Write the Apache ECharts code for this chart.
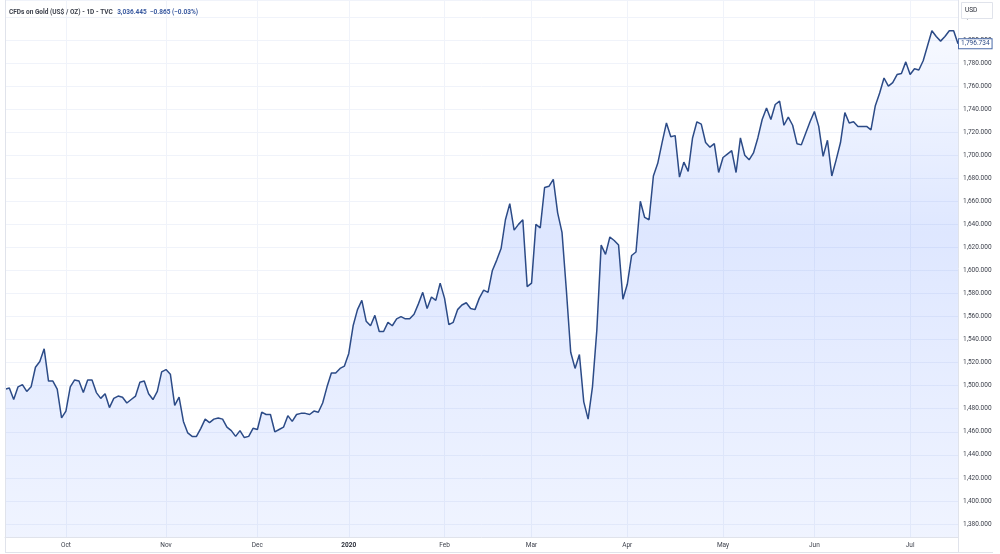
<!DOCTYPE html>
<html>
<head>
<meta charset="utf-8">
<title>CFDs on Gold</title>
<style>
  html, body { margin: 0; padding: 0; background: #fff; }
  #chart { width: 1000px; height: 554px; }
</style>
</head>
<body>
<div id="chart"></div>
<script src="https://cdn.jsdelivr.net/npm/echarts@6/dist/echarts.min.js"></script>
<script type="text/javascript">
// daily closes, one array per month
var sep2019 = [1497,1498,1488,1499,1501,1495,1499,1516,1521,1532,1504,1504,1497,1472];
var oct2019 = [1478,1499,1505,1504,1494,1505,1505,1494,1489,1493,1481,1489,1491,1490,1485,1488,1491,1503,1504,1493,1488,1495,1512];
var nov2019 = [1514,1510,1483,1490,1469,1459,1456,1456,1463,1471,1468,1471,1472,1471,1464,1461,1456,1461,1455,1456,1463];
var dec2019 = [1462,1477,1475,1475,1460,1462,1464,1474,1469,1475,1476,1476,1475,1478,1477,1485,1499,1511,1511,1515,1517];
var jan2020 = [1528,1552,1566,1574,1556,1552,1561,1547,1547,1555,1552,1558,1560,1558,1558,1562,1571,1581,1567,1577,1574,1589];
var feb2020 = [1576,1553,1555,1566,1570,1572,1567,1566,1576,1583,1581,1600,1609,1619,1644,1658,1635,1640,1644,1586];
var mar2020 = [1589,1640,1637,1672,1673,1679,1650,1633,1583,1529,1515,1527,1486,1471,1499,1548,1622,1614,1629,1626,1622,1575];
var apr2020 = [1588,1613,1616,1660,1646,1644,1682,1693,1711,1728,1716,1717,1681,1694,1686,1715,1729,1727,1711,1707,1710,1685];
var may2020 = [1698,1701,1704,1685,1715,1700,1696,1702,1715,1731,1741,1731,1744,1747,1726,1733,1726,1710,1709,1719,1729];
var jun2020 = [1738,1725,1699,1713,1682,1696,1711,1737,1728,1729,1725,1725,1725,1722,1743,1754,1767,1760,1763,1770,1771,1781];
var jul2020 = [1770,1775,1774,1782,1795,1808,1803,1799,1803,1808,1808,1796.734];

var closes = [].concat(sep2019, oct2019, nov2019, dec2019, jan2020, feb2020, mar2020, apr2020, may2020, jun2020, jul2020);

var firstDay = '2019-09-11';
var holidays = ['2019-12-25', '2020-01-01'];
var monthNames = ['2020','Feb','Mar','Apr','May','Jun','Jul','Aug','Sep','Oct','Nov','Dec'];
var yTickStep = 20;
var lastPrice = 1796.734;

// trading days (weekdays without the holidays above)
var dates = [];
var t = Date.parse(firstDay + 'T00:00:00Z');
while (dates.length < closes.length) {
    var dt = new Date(t);
    var iso = dt.toISOString().slice(0, 10);
    var wd = dt.getUTCDay();
    if (wd !== 0 && wd !== 6 && holidays.indexOf(iso) < 0) dates.push(iso);
    t += 86400000;
}
var monthStart = {};
for (var i = 1; i < dates.length; i++) {
    if (dates[i].slice(5, 7) !== dates[i - 1].slice(5, 7)) monthStart[i] = true;
}

var fmt = function (v) {
    return v.toLocaleString('en-US', {minimumFractionDigits: 3, maximumFractionDigits: 3});
};

var chart = echarts.init(document.getElementById('chart'));
var option = {
    animation: false,
    backgroundColor: '#ffffff',
    textStyle: {fontFamily: 'Roboto, "Noto Sans", sans-serif'},
    title: {
        left: 9,
        top: 3,
        padding: 0,
        text: '{a|CFDs on Gold (US$ / OZ) - 1D - TVC} {b|3,036.445  \u22120.865 (\u22120.03%)}',
        textStyle: {
            rich: {
                a: {fontSize: 6.5, color: '#3b3f4a'},
                b: {fontSize: 6.5, color: '#3a5aa0'}
            }
        }
    },
    grid: {left: 5, right: 42, top: 0, bottom: 17},
    xAxis: {
        type: 'category',
        data: dates,
        boundaryGap: false,
        axisLine: {show: true, lineStyle: {color: '#e0e3eb', width: 1}},
        axisTick: {show: false},
        axisLabel: {
            interval: function (idx) { return !!monthStart[idx]; },
            margin: 5,
            fontSize: 6.5,
            color: '#3b3f4a',
            formatter: function (v) {
                var m = parseInt(v.slice(5, 7), 10) - 1;
                return m === 0 ? '{y|' + v.slice(0, 4) + '}' : monthNames[m];
            },
            rich: {y: {fontSize: 6.5, fontWeight: 'bold', color: '#2a2e39'}}
        },
        splitLine: {
            show: true,
            interval: function (idx) { return !!monthStart[idx]; },
            lineStyle: {color: '#f0f3fa', width: 1}
        }
    },
    yAxis: {
        type: 'value',
        position: 'right',
        min: 1368.7,
        max: 1834.7,
        splitNumber: Math.round((1834.7 - 1368.7) / yTickStep),
        axisLine: {show: true, lineStyle: {color: '#e0e3eb', width: 1}},
        axisTick: {show: false},
        axisLabel: {
            margin: 5,
            fontSize: 6.5,
            color: '#3b3f4a',
            showMinLabel: false,
            showMaxLabel: false,
            formatter: fmt
        },
        splitLine: {show: true, lineStyle: {color: '#f0f3fa', width: 1}}
    },
    series: [{
        type: 'line',
        data: closes,
        symbol: 'none',
        smooth: false,
        lineStyle: {color: '#2c4b87', width: 1.5},
        areaStyle: {
            color: new echarts.graphic.LinearGradient(0, 0, 0, 1, [
                {offset: 0, color: 'rgba(41,98,255,0.05)'},
                {offset: 0.4, color: 'rgba(41,98,255,0.22)'},
                {offset: 1, color: 'rgba(41,98,255,0.10)'}
            ])
        },
        markLine: {
            silent: true,
            symbol: 'none',
            lineStyle: {color: 'rgba(0,0,0,0)', width: 0, type: 'solid'},
            label: {
                show: true,
                position: 'end',
                distance: 1,
                formatter: fmt(lastPrice),
                fontSize: 6.5,
                color: '#2c4b87',
                backgroundColor: '#ffffff',
                borderColor: '#4a6aa8',
                borderWidth: 1,
                padding: [1, 2, 1, 2]
            },
            data: [{yAxis: lastPrice}]
        }
    }],
    graphic: [
        {type: 'line', z: 10, shape: {x1: 5.5, y1: 0, x2: 5.5, y2: 552}, style: {stroke: '#e0e3eb', lineWidth: 1}},
        {type: 'line', z: 10, shape: {x1: 958.5, y1: 537, x2: 958.5, y2: 552}, style: {stroke: '#e0e3eb', lineWidth: 1}},
        {type: 'line', z: 10, shape: {x1: 5, y1: 552.5, x2: 993, y2: 552.5}, style: {stroke: '#e0e3eb', lineWidth: 1}},
        {type: 'rect', z: 20, shape: {x: 961.5, y: 2.5, width: 31, height: 16}, style: {fill: '#ffffff', stroke: '#e0e3eb', lineWidth: 1}},
        {type: 'text', z: 21, left: 965, top: 7, style: {text: 'USD', fontSize: 6.5, fill: '#2a2e39', fontFamily: 'Roboto, sans-serif'}}
    ]
};
chart.setOption(option);
</script>
</body>
</html>
